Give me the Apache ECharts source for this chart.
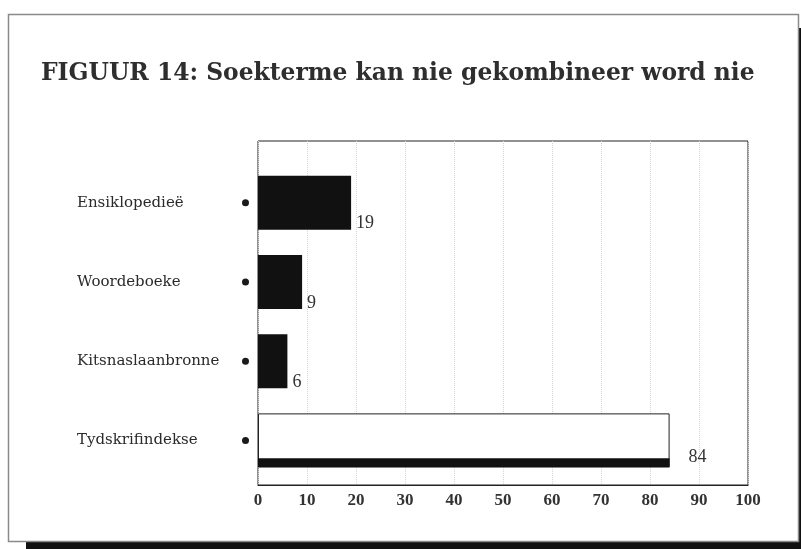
<!DOCTYPE html>
<html>
<head>
<meta charset="utf-8">
<script src="https://cdn.jsdelivr.net/npm/echarts@6/dist/echarts.min.js"></script>
<style>
  html, body { margin: 0; padding: 0; background: #fff; }
  #chart { width: 801px; height: 549px; }
</style>
</head>
<body>
<div id="chart"></div>
<script>
const titleText = 'FIGUUR 14: Soekterme kan nie gekombineer word nie'
const categories = ['Ensiklopedieë', 'Woordeboeke', 'Kitsnaslaanbronne', 'Tydskrifindekse']
const values = [19, 9, 6, 84]
const hollowIndex = 3 // the white bar with the dark base strip
const axisMin = 0
const axisMax = 100
const axisStep = 10

const chart = echarts.init(document.getElementById('chart'))

const mainData = values.map((v, i) => {
  if (i !== hollowIndex) return v
  return {
    value: v,
    itemStyle: { color: '#fff', borderColor: '#222', borderWidth: 1 },
    label: { offset: [14, 17] }
  }
})
const stripData = values.map((v, i) => (i === hollowIndex ? v : null))

chart.setOption({
  animation: false,
  title: {
    text: titleText,
    left: 36,
    top: 57,
    textStyle: {
      fontFamily: 'DejaVu Serif',
      fontWeight: 'bold',
      fontSize: 23.4,
      color: '#2e2e2e'
    }
  },
  graphic: [
    { // drop shadow of the page frame
      type: 'rect',
      z: -20,
      silent: true,
      shape: { x: 26, y: 28, width: 775, height: 521 },
      style: { fill: '#111' }
    },
    {
      type: 'rect',
      z: -19,
      silent: true,
      shape: { x: 8.5, y: 14.5, width: 790, height: 527 },
      style: { fill: '#fff', stroke: '#8a8a8a', lineWidth: 1.5 }
    }
  ],
  grid: [
    { // frame around the plot
      left: 258, right: 53, top: 141, bottom: 64,
      show: true,
      borderColor: '#222',
      borderWidth: 1
    },
    { // band area for the bars
      left: 258, right: 53, top: 163, bottom: 69
    }
  ],
  xAxis: [
    {
      gridIndex: 0,
      type: 'value',
      min: axisMin,
      max: axisMax,
      interval: axisStep,
      axisLine: { show: true, lineStyle: { color: '#222', width: 1 } },
      axisTick: { show: false },
      axisLabel: {
        margin: 7,
        fontFamily: 'Liberation Serif',
        fontWeight: 'bold',
        fontSize: 17,
        color: '#333'
      },
      splitLine: { show: true, lineStyle: { type: 'dotted', color: '#d6d6d6' } }
    },
    {
      gridIndex: 1,
      type: 'value',
      min: axisMin,
      max: axisMax,
      show: false
    }
  ],
  yAxis: [
    {
      gridIndex: 0,
      type: 'value',
      show: false
    },
    {
      gridIndex: 1,
      type: 'category',
      inverse: true,
      data: categories,
      axisLine: { show: false },
      axisTick: { show: false },
      axisLabel: {
        align: 'left',
        margin: 181,
        formatter: v => '{n|' + v + '}{d|}',
        rich: {
          n: {
            width: 165,
            fontFamily: 'DejaVu Serif',
            fontSize: 15,
            color: '#2a2a2a'
          },
          d: {
            width: 7,
            height: 7,
            borderRadius: 3.5,
            backgroundColor: '#1a1a1a'
          }
        }
      }
    }
  ],
  series: [
    {
      type: 'bar',
      xAxisIndex: 1,
      yAxisIndex: 1,
      data: mainData,
      barWidth: 54,
      barGap: '-16.67%',
      itemStyle: { color: '#111' },
      label: {
        show: true,
        position: 'right',
        distance: 5,
        offset: [0, 21],
        fontFamily: 'Liberation Serif',
        fontSize: 18,
        color: '#333'
      }
    },
    {
      type: 'bar',
      xAxisIndex: 1,
      yAxisIndex: 1,
      data: stripData,
      barWidth: 9,
      itemStyle: { color: '#111' }
    }
  ]
})
</script>
</body>
</html>
